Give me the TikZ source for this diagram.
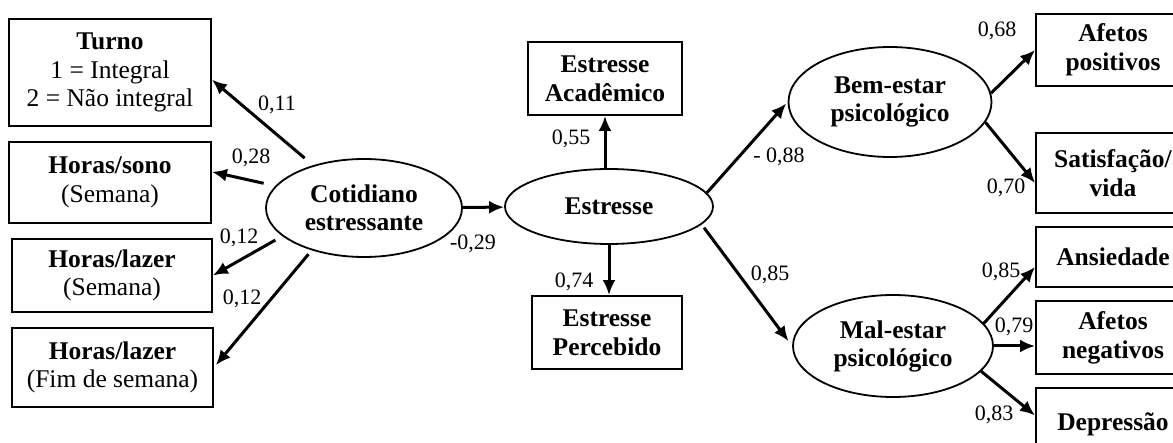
\documentclass[tikz,border=0pt]{standalone}
\usepackage{fontspec}
\setmainfont{Liberation Serif}
\usepackage{tikz}
\usetikzlibrary{shapes.geometric}
\usetikzlibrary{arrows.meta}
\tikzset{varbox/.style={rectangle, draw=black, line width=1.8pt, inner sep=0pt, align=center, font=\fontsize{25.5}{28.5}\selectfont}}
\tikzset{boldbox/.style={varbox, font=\fontsize{25.5}{29}\selectfont\bfseries}}
\tikzset{latentnode/.style={ellipse, draw=black, line width=1.8pt, inner sep=0pt, align=center, font=\fontsize{25.5}{28}\selectfont\bfseries}}
\tikzset{coef/.style={inner sep=0pt, font=\fontsize{22}{22}\selectfont}}
\tikzset{loading/.style={-{Latex[length=15pt,width=13pt]}, line width=3pt}}

\begin{document}
\begin{tikzpicture}[x=1pt, y=-1pt]
    \useasboundingbox (0,0) rectangle (1173,443);

    % indicators of the daily routine
    \node[varbox, minimum width=202pt, minimum height=107pt]  (turno)   at (110,72.5)   {\textbf{Turno}\\1 = Integral\\2 = Não integral};
    \node[varbox, minimum width=202pt, minimum height=81pt]   (sono)    at (110,182.5)  {\textbf{Horas/sono}\\(Semana)};
    \node[varbox, minimum width=200pt, minimum height=73pt]   (lazer)   at (112,275.5)  {\textbf{Horas/lazer}\\(Semana)};
    \node[varbox, minimum width=201pt, minimum height=79pt]   (fimsem)  at (112.5,367.5) {\textbf{Horas/lazer}\\(Fim de semana)};

    % latent variables
    \node[latentnode, minimum width=196pt, minimum height=98pt]  (cot)  at (364,208)   {Cotidiano\\estressante};
    \node[latentnode, minimum width=208pt, minimum height=75pt]  (estr) at (609,206.5) {Estresse};
    \node[latentnode, minimum width=203pt, minimum height=110pt] (bem)  at (890,102)   {Bem-estar\\psicológico};
    \node[latentnode, minimum width=200pt, minimum height=102pt] (mal)  at (893,346)   {Mal-estar\\psicológico};

    % indicators of stress
    \node[boldbox, minimum width=154pt, minimum height=73pt] (acad) at (605,78.5) {Estresse\\Acadêmico};
    \node[boldbox, minimum width=150pt, minimum height=73pt] (perc) at (607,332.5) {Estresse\\Percebido};

    % indicators of well-being and ill-being
    \node[boldbox, minimum width=154pt, minimum height=72pt] (afpos) at (1113,50)    {Afetos\\positivos};
    \node[boldbox, minimum width=154pt, minimum height=80pt] (satis) at (1113,173)   {Satisfação/\\vida};
    \node[boldbox, minimum width=154pt, minimum height=60pt] (ansi)  at (1113,257)   {Ansiedade};
    \node[boldbox, minimum width=154pt, minimum height=73pt] (afneg) at (1113,337.5) {Afetos\\negativos};
    \node[boldbox, minimum width=154pt, minimum height=73pt] (depr)  at (1113,424.5) {Depressão};

    % paths
    \draw[loading, shorten <=11pt] (cot.140) -- (turno.-4);
    \draw[loading, shorten <=12pt] (cot.166) -- (sono.6);
    \draw[loading, shorten <=8pt]  (cot.199) -- (lazer.east);
    \draw[loading, shorten <=5pt, shorten >=3pt] (cot.219) -- (fimsem.east);
    \draw[loading] (cot) -- (estr);
    \draw[loading] (acad.south |- estr.north) -- (acad.south);
    \draw[loading] (estr.south) -- (estr.south |- perc.north);
    \draw[loading, shorten >=2pt] (estr.8) -- (bem.west);
    \draw[loading, shorten <=4pt, shorten >=6pt] (estr.-11) -- (mal.west);
    \draw[loading] (bem.5) -- (afpos.west);
    \draw[loading] (bem.-12) -- ([yshift=-10pt]satis.west);
    \draw[loading] (mal.14) -- ([yshift=-10pt]ansi.west);
    \draw[loading] (mal.east) -- (mal.east -| afneg.west);
    \draw[loading] (mal.-16) -- ([yshift=9pt]depr.west);

    % coefficients
    \node[coef] (c11)  at (277,105)  {0,11};
    \node[coef] (c28)  at (251,158)  {0,28};
    \node[coef] (c12a) at (239,238)  {0,12};
    \node[coef] (c12b) at (242,299)  {0,12};
    \node[coef] (c29)  at (473,244)  {-0,29};
    \node[coef] (c55)  at (571,139)  {0,55};
    \node[coef] (c74)  at (574,282)  {0,74};
    \node[coef] (c88)  at (779,157)  {- 0,88};
    \node[coef] (c85a) at (770,275)  {0,85};
    \node[coef] (c68)  at (997,31)   {0,68};
    \node[coef] (c70)  at (1006,188) {0,70};
    \node[coef] (c85b) at (1001,272) {0,85};
    \node[coef] (c79)  at (1014,327) {0,79};
    \node[coef] (c83)  at (994,415)  {0,83};
\end{tikzpicture}
\end{document}
